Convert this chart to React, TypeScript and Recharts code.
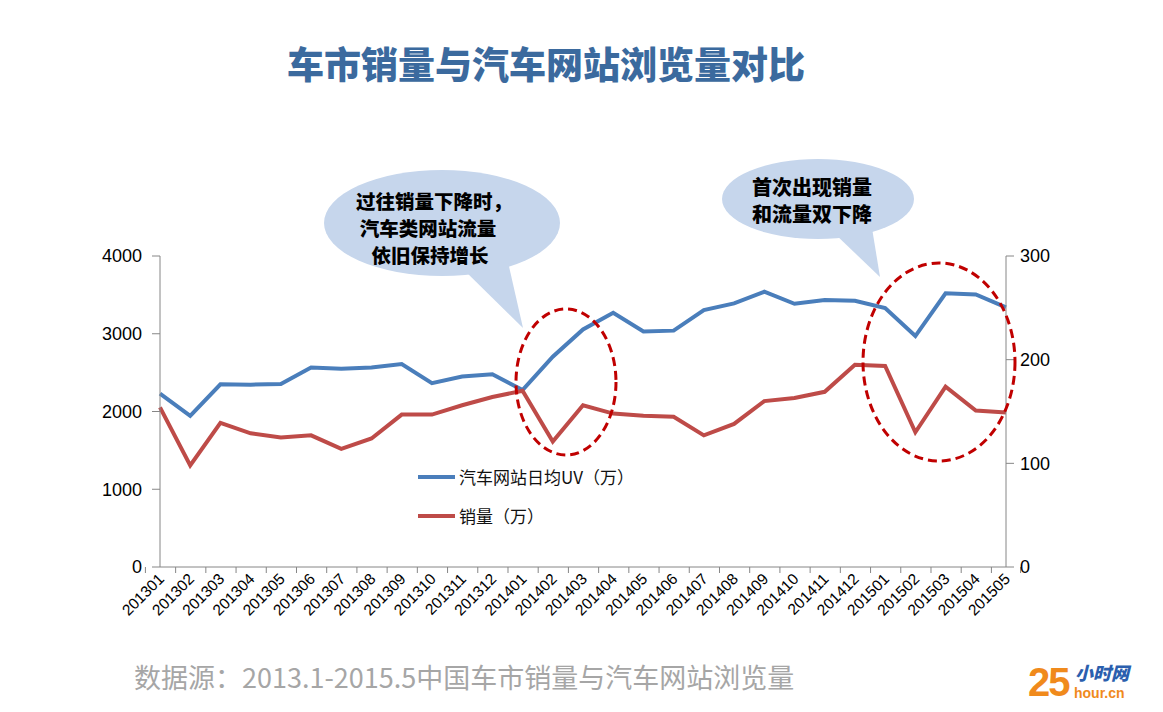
import React from 'react'
import { LineChart, Line, XAxis, YAxis } from 'recharts'

// months 2013.01 - 2015.05
const months = [
  '201301', '201302', '201303', '201304', '201305', '201306', '201307', '201308', '201309', '201310',
  '201311', '201312', '201401', '201402', '201403', '201404', '201405', '201406', '201407', '201408',
  '201409', '201410', '201411', '201412', '201501', '201502', '201503', '201504', '201505',
]
// 汽车网站日均UV（万） - left axis
const uv = [
  2230, 1945, 2350, 2345, 2355, 2565, 2550, 2565, 2610, 2365,
  2450, 2480, 2275, 2705, 3055, 3270, 3030, 3040, 3305, 3390,
  3540, 3385, 3435, 3425, 3330, 2970, 3520, 3505, 3340,
]
// 销量（万） - right axis
const sales = [
  154, 98, 139, 129, 125, 127, 114, 124, 147, 147,
  156, 164, 170, 121, 156, 148, 146, 145, 127, 138,
  160, 163, 169, 195, 194, 130, 174, 151, 149,
]
const leftTicks = [0, 1000, 2000, 3000, 4000]
const rightTicks = [0, 100, 200, 300]

const BLUE = '#4a7ebb'
const RED = '#be4b48'
const AXIS = '#868686'

const W = 1163
const H = 712
const PLOT_LEFT = 160
const PLOT_RIGHT = 1006
const STEP = (PLOT_RIGHT - PLOT_LEFT) / months.length

const data = months.map((m, i) => ({ month: m, uv: uv[i], sales: sales[i] }))

const cjk = "'Noto Sans CJK SC', sans-serif"
const latin = "'Liberation Sans', Arial, sans-serif"

function MonthTick(props: any) {
  const { x, y, index } = props
  const tx = x + 5
  const ty = y + 13
  return (
    <g>
      <line x1={x - STEP / 2} x2={x - STEP / 2} y1={y} y2={y + 6} stroke={AXIS} />
      {index === months.length - 1 && (
        <line x1={x + STEP / 2} x2={x + STEP / 2} y1={y} y2={y + 6} stroke={AXIS} />
      )}
      <text
        x={tx}
        y={ty}
        transform={`rotate(-45, ${tx}, ${ty})`}
        textAnchor="end"
        fontSize={15.5}
        fontFamily={latin}
        fill="#000"
      >
        {props.payload.value}
      </text>
    </g>
  )
}

const legendRows = [
  { label: '汽车网站日均UV（万）', color: BLUE },
  { label: '销量（万）', color: RED },
]

export default function App() {
  return (
    <div style={{ position: 'absolute', left: 0, top: 0, width: W, height: H, background: '#fff', overflow: 'hidden' }}>
      <div
        style={{
          position: 'absolute', left: 287, top: 38, whiteSpace: 'nowrap',
          fontFamily: cjk, fontWeight: 900, fontSize: 37, color: '#3b6a9e', lineHeight: '50px',
        }}
      >
        车市销量与汽车网站浏览量对比
      </div>

      <div style={{ position: 'absolute', left: 0, top: 0 }}>
        <LineChart width={W} height={H} data={data} margin={{ top: 256, right: 97, bottom: 65, left: 100 }}>
          <XAxis
            dataKey="month"
            interval={0}
            height={80}
            tickSize={0}
            tickMargin={0}
            tickLine={false}
            axisLine={{ stroke: AXIS }}
            tick={<MonthTick />}
          />
          <YAxis
            yAxisId="left"
            width={60}
            domain={[0, 4000]}
            ticks={leftTicks}
            tickSize={8}
            tickMargin={10}
            axisLine={{ stroke: AXIS }}
            tickLine={{ stroke: AXIS }}
            tick={{ fill: '#000', fontSize: 18, fontFamily: latin }}
          />
          <YAxis
            yAxisId="right"
            orientation="right"
            width={60}
            domain={[0, 300]}
            ticks={rightTicks}
            tickSize={8}
            tickMargin={6}
            axisLine={{ stroke: AXIS }}
            tickLine={{ stroke: AXIS }}
            tick={{ fill: '#000', fontSize: 18, fontFamily: latin }}
          />
          <Line yAxisId="left" dataKey="uv" stroke={BLUE} strokeWidth={4} dot={false} isAnimationActive={false} />
          <Line yAxisId="right" dataKey="sales" stroke={RED} strokeWidth={4} dot={false} isAnimationActive={false} />
        </LineChart>
      </div>

      {/* legend inside the plot */}
      <div style={{ position: 'absolute', left: 418, top: 457 }}>
        {legendRows.map((r) => (
          <div key={r.label} style={{ display: 'flex', alignItems: 'center', height: 39 }}>
            <div style={{ width: 37, height: 4, background: r.color, marginRight: 4 }} />
            <span style={{ fontSize: 17, color: '#111', fontFamily: cjk, whiteSpace: 'nowrap' }}>{r.label}</span>
          </div>
        ))}
      </div>

      <svg width={W} height={H} style={{ position: 'absolute', left: 0, top: 0, pointerEvents: 'none' }}>
        {/* callout 1 */}
        <ellipse cx={442} cy={223} rx={118} ry={53} fill="#c6d6ec" />
        <polygon points="462,268 508,262 523,328" fill="#c6d6ec" />
        <g fontFamily={cjk} fontWeight={900} fontSize={19.5} fill="#000" textAnchor="middle">
          <text x={434} y={209}>过往销量下降时，</text>
          <text x={428} y={236}>汽车类网站流量</text>
          <text x={430} y={263}>依旧保持增长</text>
        </g>
        {/* callout 2 */}
        <ellipse cx={818} cy={199} rx={96} ry={40} fill="#c6d6ec" />
        <polygon points="833,232 872,228 880,277" fill="#c6d6ec" />
        <g fontFamily={cjk} fontWeight={900} fontSize={20} fill="#000" textAnchor="middle">
          <text x={812} y={195}>首次出现销量</text>
          <text x={812} y={222}>和流量双下降</text>
        </g>
        {/* dashed highlight rings */}
        <ellipse cx={566} cy={382} rx={50} ry={73} fill="none" stroke="#c00000" strokeWidth={3} strokeDasharray="9 5" />
        <ellipse cx={939} cy={362} rx={76} ry={99} fill="none" stroke="#c00000" strokeWidth={3} strokeDasharray="9 5" />
      </svg>

      <div
        style={{
          position: 'absolute', left: 134, top: 658, fontFamily: cjk, fontSize: 27,
          color: '#a6a6a6', lineHeight: '38px', whiteSpace: 'nowrap',
        }}
      >
        数据源：2013.1-2015.5中国车市销量与汽车网站浏览量
      </div>

      <div style={{ position: 'absolute', left: 1028, top: 660, width: 130, height: 46 }}>
        <span
          style={{
            position: 'absolute', left: 0, top: 0, fontFamily: latin,
            fontWeight: 700, fontSize: 40, color: '#f08a1c', lineHeight: '44px', letterSpacing: -2,
          }}
        >
          25
        </span>
        <span
          style={{
            position: 'absolute', left: 47, top: 2, fontFamily: cjk, fontWeight: 900,
            fontSize: 18, color: '#2b5fae', fontStyle: 'italic', lineHeight: '20px',
          }}
        >
          小时网
        </span>
        <span
          style={{
            position: 'absolute', left: 46, top: 26, fontFamily: latin,
            fontWeight: 700, fontSize: 14, color: '#f08a1c', lineHeight: '15px',
          }}
        >
          hour.cn
        </span>
      </div>
    </div>
  )
}
